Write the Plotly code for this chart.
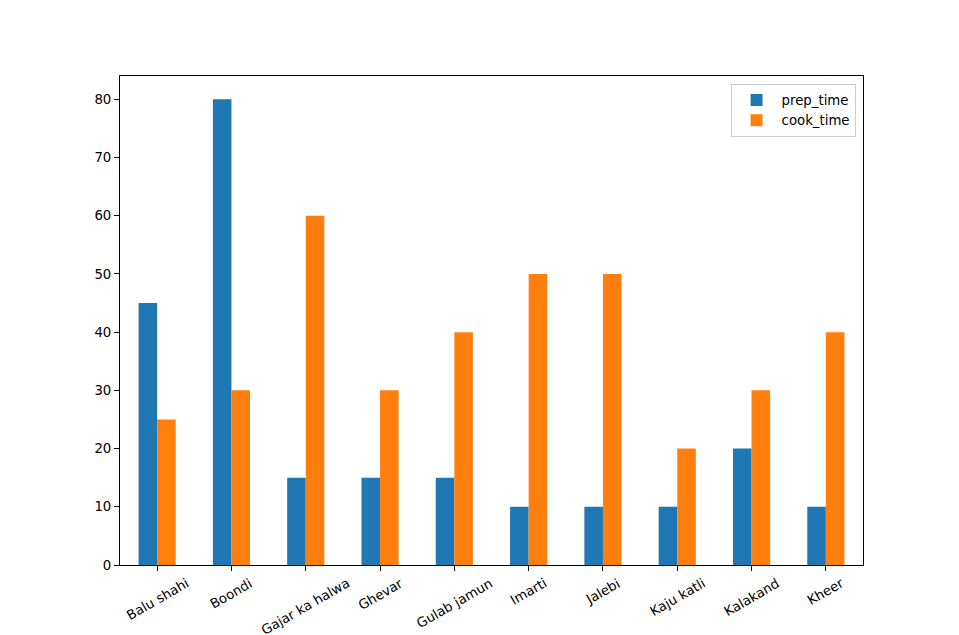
import plotly.graph_objects as go

# dessert names and times (minutes)
desserts = ["Balu shahi", "Boondi", "Gajar ka halwa", "Ghevar", "Gulab jamun",
            "Imarti", "Jalebi", "Kaju katli", "Kalakand", "Kheer"]
prep_time = [45, 80, 15, 15, 15, 10, 10, 10, 20, 10]
cook_time = [25, 30, 60, 30, 40, 50, 50, 20, 30, 40]

fig = go.Figure()
fig.add_trace(go.Bar(x=desserts, y=prep_time, name="prep_time", marker_color="#1f77b4",
                     marker_line_width=0))
fig.add_trace(go.Bar(x=desserts, y=cook_time, name="cook_time", marker_color="#ff7f0e",
                     marker_line_width=0))

axis_style = dict(showline=True, linecolor="black", linewidth=1, mirror=True,
                  ticks="outside", ticklen=5, tickcolor="black", showgrid=False,
                  zeroline=False, automargin=False, tickfont=dict(size=13.3, color="black"))

# rotated x labels centred under each tick (like matplotlib rotation=30)
for name in desserts:
    fig.add_annotation(x=name, xref="x", y=0, yref="paper", text=name, showarrow=False,
                       textangle=-30, xanchor="center", yanchor="top", yshift=-9,
                       borderpad=0, font=dict(size=13.3, color="black"))

# page body has an 8px margin, so shift the plot area back by that much
fig.update_layout(
    width=959, height=635,
    margin=dict(l=112, r=104, t=68, b=78),
    paper_bgcolor="white", plot_bgcolor="white",
    font=dict(family="DejaVu Sans", size=13.3, color="black"),
    barmode="group", bargap=0.5, bargroupgap=0,
    xaxis=dict(range=[-0.5, 9.5], showticklabels=False, **axis_style),
    yaxis=dict(range=[0, 84], dtick=10, **axis_style),
    legend=dict(x=0.99, y=0.984, xanchor="right", yanchor="top",
                bordercolor="#cccccc", borderwidth=1, bgcolor="white",
                itemwidth=40, font=dict(size=13.3)),
)

fig.write_html("out.html")
